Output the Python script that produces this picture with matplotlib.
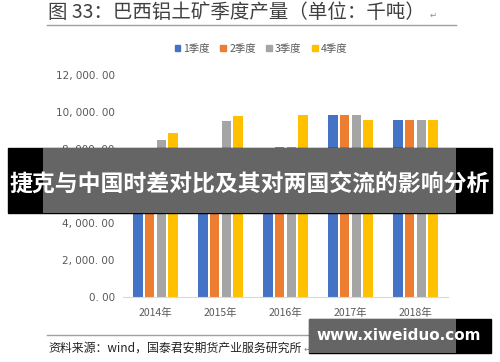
import matplotlib
matplotlib.use('Agg')
import matplotlib.pyplot as plt
from matplotlib.patches import Rectangle, Patch
from matplotlib.lines import Line2D
import numpy as np

plt.rcParams['font.family'] = ['Noto Sans CJK SC', 'DejaVu Sans']

years = ['2014年', '2015年', '2016年', '2017年', '2018年']
quarters = ['1季度', '2季度', '3季度', '4季度']
q1 = [7000, 7620, 7980, 9840, 9550]
q2 = [7000, 7850, 8090, 9840, 9550]
q3 = [8490, 9510, 8090, 9840, 9550]
q4 = [8860, 9800, 9840, 9550, 9550]
colors = ['#4472C4', '#ED7D31', '#A5A5A5', '#FFC000']
yticks = [0, 2000, 4000, 6000, 8000, 10000, 12000]

W, H = 500, 362
fig = plt.figure(figsize=(W / 100, H / 100), dpi=100)


def fx(px):
    return px / W


def fy(py):
    return 1 - py / H


# axes placed in pixel coords of the reference
ax = fig.add_axes([fx(123), fy(297), fx(448) - fx(123), fy(75) - fy(297)])
x = np.arange(len(years))
for i, vals in enumerate([q1, q2, q3, q4]):
    ax.bar(x + (i - 1.5) * 0.18, vals, width=0.148, color=colors[i], zorder=2)

ax.set_xlim(-0.5, len(years) - 0.5)
ax.set_ylim(0, 12000)
ax.set_yticks(yticks)
ax.set_yticklabels([f'{v:,.2f}'.replace(',', ', ').replace('.', '. ') for v in yticks],
                   fontsize=7.5, color='#595959', family=['DejaVu Sans'])
ax.set_xticks(x)
ax.set_xticklabels(years, fontsize=7.5, color='#595959')
ax.tick_params(axis='x', length=0, pad=8)
ax.tick_params(axis='y', length=0, pad=6)
for s in ['top', 'right', 'left']:
    ax.spines[s].set_visible(False)
ax.spines['bottom'].set_color('#D9D9D9')

handles = [Patch(color=c) for c in colors]
fig.legend(handles, quarters, loc='center', bbox_to_anchor=(fx(261), fy(49)), ncol=4,
           frameon=False, fontsize=7.5, handlelength=0.55, handleheight=0.55,
           handletextpad=0.3, columnspacing=1.0, labelcolor='#595959')

# document title and rules
fig.text(fx(48), fy(13), '图 33：巴西铝土矿季度产量（单位：千吨）', fontsize=14,
         color='#404040', va='center', ha='left')
fig.text(fx(430), fy(15), '↵', fontsize=6, color='#888888', va='center')
fig.add_artist(Line2D([fx(47), fx(456)], [fy(25), fy(25)], color='#A0A0A0', lw=1))
fig.add_artist(Line2D([fx(47), fx(456)], [fy(335), fy(335)], color='#A0A0A0', lw=1))
fig.text(fx(48), fy(348), '资料来源：wind，国泰君安期货产业服务研究所', fontsize=8.6,
         color='#222222', va='center', ha='left')
fig.text(fx(304), fy(349), '↵', fontsize=6, color='#888888', va='center')
fig.text(fx(345), fy(345), '国泰君安期货产业服务', fontsize=8, color='#C8C8C8',
         va='center', ha='left')

# overlay banner across the middle
fig.add_artist(Rectangle((fx(8), fy(213)), fx(492) - fx(8), fy(148) - fy(213),
                         transform=fig.transFigure, color='black', zorder=10))
fig.add_artist(Rectangle((fx(43), fy(213)), fx(456) - fx(43), fy(148) - fy(213),
                         transform=fig.transFigure, facecolor='white', alpha=0.4,
                         lw=0, zorder=11))
fig.text(fx(250), fy(184), '捷克与中国时差对比及其对两国交流的影响分析', fontsize=16.5,
         fontweight='bold', color='white', ha='center', va='center', zorder=12)

# watermark banner bottom right
fig.add_artist(Rectangle((fx(309), fy(353)), fx(491) - fx(309), fy(319) - fy(353),
                         transform=fig.transFigure, color='black', zorder=10))
fig.add_artist(Rectangle((fx(309), fy(353)), fx(456) - fx(309), fy(319) - fy(353),
                         transform=fig.transFigure, facecolor='white', alpha=0.4,
                         lw=0, zorder=11))
fig.text(fx(399), fy(336), 'www.xiweiduo.com', fontsize=11, fontweight='bold',
         color='white', ha='center', va='center', zorder=12, family=['DejaVu Sans'])

fig.savefig('out.png', dpi=100)
